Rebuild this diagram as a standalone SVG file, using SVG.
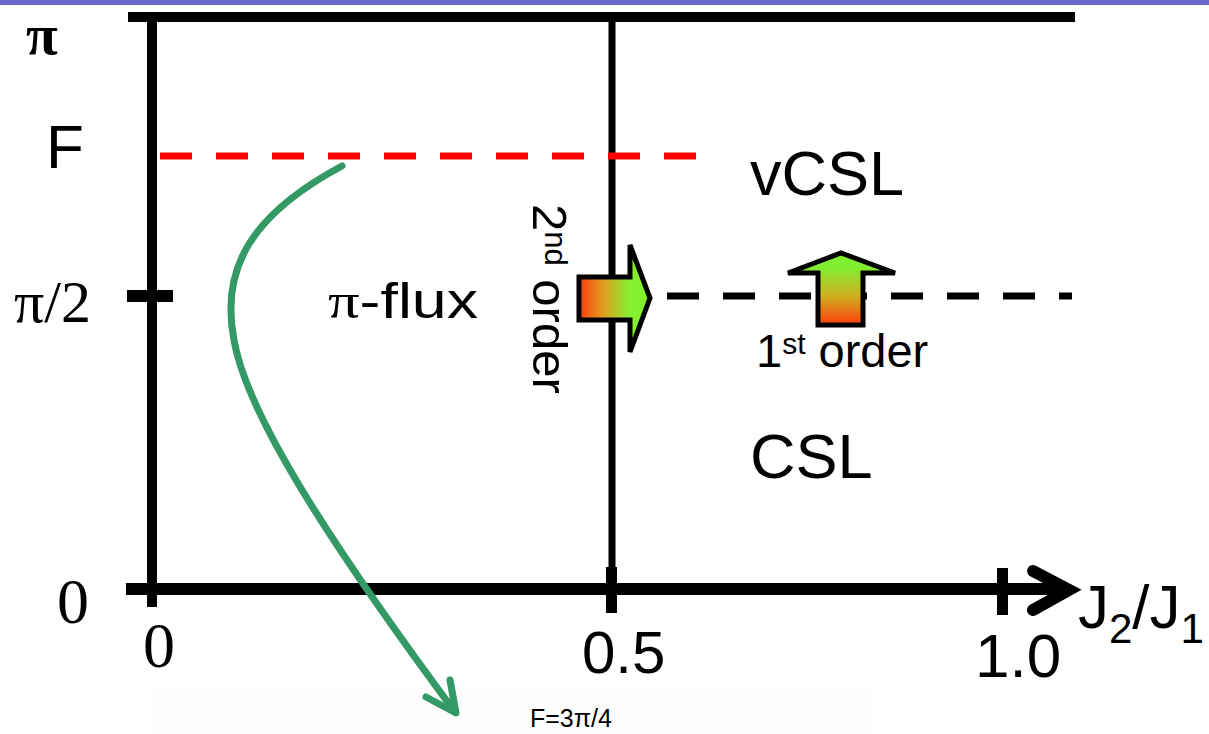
<svg xmlns="http://www.w3.org/2000/svg" width="1209" height="734" viewBox="0 0 1209 734">
  <style>
    .serif { font-family: "Liberation Serif", "Times New Roman", serif; fill: #000; }
    .sans { font-family: "Liberation Sans", Arial, sans-serif; fill: #000; }
    .axis { stroke: #000; fill: none; }
  </style>
  <defs>
    <linearGradient id="gradRight" x1="0" y1="0" x2="1" y2="0">
      <stop offset="0" stop-color="#ff3c0a"/>
      <stop offset="0.35" stop-color="#e0a020"/>
      <stop offset="0.7" stop-color="#88ee30"/>
      <stop offset="1" stop-color="#7cf22c"/>
    </linearGradient>
    <linearGradient id="gradUp" x1="0" y1="1" x2="0" y2="0">
      <stop offset="0" stop-color="#ff3c0a"/>
      <stop offset="0.4" stop-color="#d0b020"/>
      <stop offset="0.8" stop-color="#80ee30"/>
      <stop offset="1" stop-color="#7cf22c"/>
    </linearGradient>
  </defs>

  <rect width="1209" height="734" fill="#fff"/>
  <!-- header band -->
  <rect x="0" y="0" width="1209" height="5" fill="#6866c8"/>
  <!-- faint caption strip -->
  <rect x="150" y="686" width="720" height="48" fill="#fdfdfd"/>

  <g id="axes">
    <!-- vertical axis at J2/J1 = 0 -->
    <line class="axis" x1="152" y1="12" x2="152" y2="607" stroke-width="10"/>
    <!-- top boundary at pi -->
    <line class="axis" x1="128" y1="17" x2="1075" y2="17" stroke-width="10"/>
    <!-- horizontal axis -->
    <line class="axis" x1="126" y1="589" x2="1062" y2="589" stroke-width="12"/>
    <polyline class="axis" points="1033,571 1069,590 1033,610" stroke-width="12" stroke-linecap="round"/>
    <!-- ticks -->
    <line class="axis" x1="127" y1="296" x2="173" y2="296" stroke-width="12"/>
    <line class="axis" x1="611.5" y1="567" x2="611.5" y2="613" stroke-width="11"/>
    <line class="axis" x1="1002.5" y1="568" x2="1002.5" y2="615" stroke-width="11"/>
  </g>

  <g id="connectors">
    <!-- phase boundary at J2/J1 = 0.5 -->
    <line x1="612" y1="17" x2="612" y2="589" stroke="#000" stroke-width="7"/>
    <!-- flux F line -->
    <line x1="160" y1="156" x2="696" y2="156" stroke="#ff0000" stroke-width="7" stroke-dasharray="32 24"/>
    <!-- first-order line at pi/2 -->
    <line x1="667" y1="296" x2="1072" y2="296" stroke="#000" stroke-width="7" stroke-dasharray="32 24"/>
    <!-- green path -->
    <path d="M342,166 C252,214 220,268 234,340 C246,410 320,530 455,712" fill="none" stroke="#339966" stroke-width="7" stroke-linecap="round"/>
    <polyline points="450,680 456,713 426,697" fill="none" stroke="#339966" stroke-width="7" stroke-linecap="round" stroke-linejoin="round"/>
  </g>

  <g id="arrow-second-order">
    <polygon points="579,277 630,277 630,245 650,298 630,352 630,320 579,320" fill="url(#gradRight)" stroke="#000" stroke-width="5" stroke-linejoin="miter"/>
  </g>
  <g id="arrow-first-order">
    <polygon points="818,325 863,325 863,273 895,273 841,253 788,273 818,273" fill="url(#gradUp)" stroke="#000" stroke-width="5" stroke-linejoin="miter"/>
  </g>

  <g id="labels-y">
    <text class="serif" x="26" y="54" font-size="58" font-weight="bold">π</text>
    <text class="sans" x="46" y="168" font-size="62">F</text>
    <text class="serif" x="14" y="322" font-size="60">π/2</text>
    <text class="serif" x="57" y="623" font-size="64">0</text>
  </g>
  <g id="labels-x">
    <text class="serif" x="143" y="667" font-size="64">0</text>
    <text class="sans" x="582" y="673" font-size="60">0.5</text>
    <text class="sans" x="975" y="677" font-size="62">1.0</text>
    <text class="sans" x="1078" y="628" font-size="62">J<tspan font-size="42" dy="15">2</tspan><tspan dy="-15">/J</tspan><tspan font-size="42" dy="15">1</tspan></text>
  </g>

  <g id="region-vcsl">
    <text class="sans" x="750" y="195" font-size="63">vCSL</text>
  </g>
  <g id="region-piflux">
    <text class="sans" x="328" y="318" font-size="50" textLength="150" lengthAdjust="spacingAndGlyphs"><tspan class="serif">π</tspan>-flux</text>
  </g>
  <g id="region-csl">
    <text class="sans" x="750" y="478" font-size="63">CSL</text>
  </g>

  <g id="label-second-order">
    <text class="sans" font-size="49" transform="translate(533,204) rotate(90)">2<tspan font-size="31" dy="-12">nd</tspan><tspan dy="12"> order</tspan></text>
  </g>
  <g id="label-first-order">
    <text class="sans" x="756" y="367" font-size="47">1<tspan font-size="30" dy="-13">st</tspan><tspan dy="13"> order</tspan></text>
  </g>

  <g id="caption">
    <text class="sans" x="530" y="727" font-size="25" fill="#222">F=3π/4</text>
  </g>
</svg>
